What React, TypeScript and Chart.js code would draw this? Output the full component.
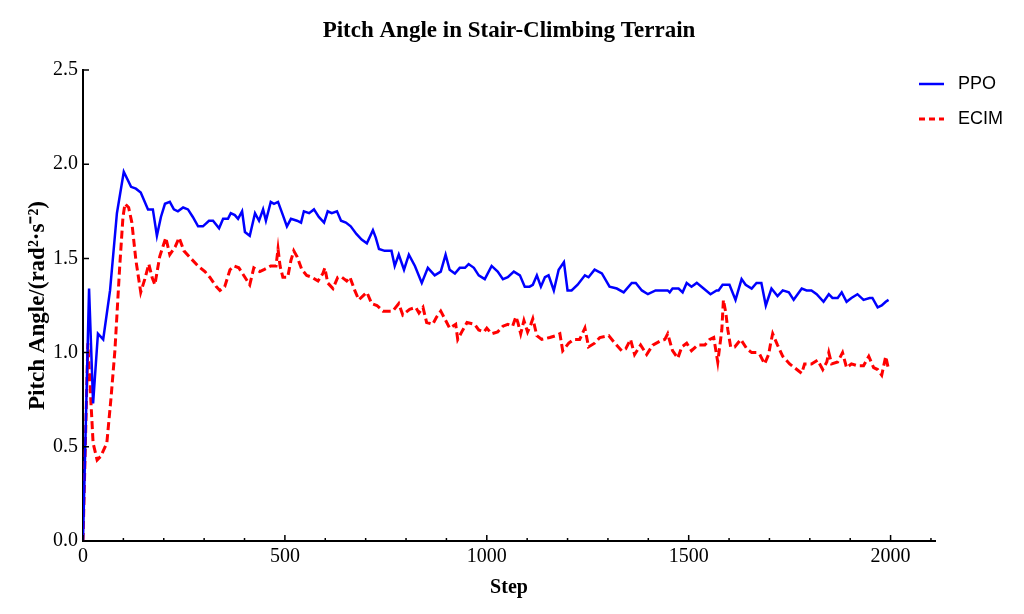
import React, { useEffect, useRef } from 'react';
import { Chart, registerables } from 'chart.js';

Chart.register(...registerables);

const titleText = 'Pitch Angle in Stair-Climbing Terrain';
const xTitle = 'Step';
const yTitle = 'Pitch Angle/(rad²·s⁻²)';
const seriesNames = ['PPO', 'ECIM'];
const xTicks = [0, 500, 1000, 1500, 2000];
const yTicks = [0.0, 0.5, 1.0, 1.5, 2.0, 2.5];

const ppoSteps = [
  0, 15, 25, 37, 50, 67, 84, 101, 119, 131, 143, 161, 173, 183, 193, 203, 215, 225, 235, 248,
  260, 272, 285, 297, 312, 322, 337, 347, 359, 366, 376, 384, 394, 401, 413, 426, 436, 446, 453, 465,
  473, 483, 495, 505, 515, 530, 540, 547, 560, 572, 584, 597, 606, 616, 629, 639, 651, 663, 677, 690,
  703, 718, 725, 733, 747, 764, 772, 782, 795, 807, 822, 839, 854, 871, 886, 898, 908, 921, 933, 946,
  955, 968, 980, 995, 1012, 1027, 1040, 1052, 1067, 1082, 1094, 1106, 1114, 1124, 1134, 1144, 1153, 1166, 1178, 1191,
  1200, 1210, 1225, 1243, 1252, 1267, 1285, 1304, 1322, 1339, 1359, 1369, 1384, 1399, 1418, 1436, 1448, 1453, 1460, 1475,
  1485, 1495, 1507, 1520, 1537, 1554, 1569, 1574, 1584, 1601, 1616, 1631, 1641, 1656, 1668, 1680, 1691, 1705, 1720, 1733,
  1748, 1760, 1780, 1792, 1804, 1817, 1834, 1847, 1856, 1869, 1879, 1891, 1903, 1918, 1933, 1948, 1955, 1968, 1978, 1988,
  1995,
];
const ppoValues = [
  0.0, 1.34, 0.73, 1.1, 1.07, 1.33, 1.74, 1.96, 1.88, 1.87, 1.85, 1.76, 1.76, 1.62, 1.72, 1.79, 1.8, 1.76, 1.75, 1.77,
  1.76, 1.72, 1.67, 1.67, 1.7, 1.7, 1.66, 1.71, 1.71, 1.74, 1.73, 1.71, 1.75, 1.64, 1.62, 1.74, 1.7, 1.76, 1.7, 1.8,
  1.79, 1.8, 1.73, 1.67, 1.71, 1.7, 1.69, 1.75, 1.74, 1.76, 1.72, 1.69, 1.75, 1.74, 1.75, 1.7, 1.69, 1.67, 1.63, 1.6,
  1.58, 1.65, 1.61, 1.55, 1.54, 1.54, 1.46, 1.52, 1.44, 1.52, 1.46, 1.37, 1.45, 1.41, 1.43, 1.52, 1.44, 1.42, 1.45, 1.45,
  1.47, 1.45, 1.41, 1.39, 1.46, 1.43, 1.39, 1.4, 1.43, 1.41, 1.35, 1.35, 1.36, 1.41, 1.35, 1.4, 1.41, 1.33, 1.44, 1.48,
  1.33, 1.33, 1.36, 1.41, 1.4, 1.44, 1.42, 1.35, 1.34, 1.32, 1.37, 1.37, 1.33, 1.31, 1.33, 1.33, 1.33, 1.32, 1.34, 1.34,
  1.32, 1.37, 1.35, 1.37, 1.34, 1.31, 1.33, 1.33, 1.36, 1.36, 1.28, 1.39, 1.36, 1.34, 1.37, 1.37, 1.25, 1.34, 1.3, 1.33,
  1.32, 1.28, 1.34, 1.33, 1.33, 1.31, 1.27, 1.31, 1.29, 1.29, 1.32, 1.27, 1.29, 1.31, 1.28, 1.29, 1.29, 1.24, 1.25, 1.27,
  1.28,
];

const ecimSteps = [
  0, 12, 25, 35, 44, 59, 69, 79, 91, 99, 104, 113, 121, 131, 143, 153, 163, 171, 178, 190,
  205, 215, 228, 238, 250, 267, 285, 302, 314, 330, 339, 351, 364, 374, 386, 401, 413, 423, 438, 448,
  465, 478, 483, 488, 495, 507, 515, 522, 530, 542, 554, 567, 582, 594, 599, 606, 619, 631, 641, 653,
  661, 673, 683, 698, 703, 715, 728, 743, 767, 782, 792, 809, 824, 832, 842, 851, 866, 876, 886, 896,
  908, 923, 928, 938, 951, 970, 980, 993, 1000, 1012, 1027, 1040, 1052, 1064, 1072, 1077, 1084, 1092, 1101, 1109,
  1114, 1124, 1136, 1156, 1171, 1181, 1188, 1203, 1215, 1230, 1243, 1252, 1267, 1280, 1302, 1317, 1334, 1344, 1356, 1366,
  1381, 1396, 1411, 1428, 1441, 1448, 1460, 1473, 1483, 1495, 1507, 1522, 1540, 1552, 1562, 1572, 1582, 1586, 1592, 1597,
  1604, 1614, 1629, 1644, 1656, 1668, 1676, 1688, 1698, 1703, 1708, 1720, 1733, 1750, 1780, 1787, 1804, 1819, 1832, 1842,
  1847, 1854, 1869, 1881, 1891, 1903, 1918, 1933, 1946, 1958, 1968, 1978, 1988, 1995,
];
const ecimValues = [
  0.0, 1.05, 0.52, 0.43, 0.45, 0.52, 0.75, 1.01, 1.46, 1.72, 1.79, 1.77, 1.69, 1.49, 1.32, 1.39, 1.47, 1.4, 1.36, 1.51,
  1.61, 1.52, 1.56, 1.61, 1.54, 1.5, 1.46, 1.43, 1.4, 1.35, 1.33, 1.35, 1.44, 1.46, 1.45, 1.4, 1.36, 1.45, 1.43, 1.44,
  1.46, 1.46, 1.55, 1.46, 1.4, 1.4, 1.49, 1.54, 1.51, 1.44, 1.41, 1.4, 1.38, 1.42, 1.45, 1.37, 1.34, 1.4, 1.4, 1.38,
  1.4, 1.33, 1.28, 1.31, 1.32, 1.26, 1.25, 1.22, 1.22, 1.26, 1.2, 1.23, 1.24, 1.21, 1.24, 1.16, 1.15, 1.19, 1.22, 1.18,
  1.13, 1.15, 1.07, 1.11, 1.16, 1.15, 1.12, 1.11, 1.13, 1.1, 1.11, 1.14, 1.15, 1.14, 1.19, 1.16, 1.1, 1.17, 1.11, 1.15,
  1.18, 1.09, 1.07, 1.08, 1.09, 1.1, 1.01, 1.05, 1.07, 1.07, 1.13, 1.03, 1.05, 1.08, 1.09, 1.05, 1.01, 1.02, 1.07, 0.99,
  1.04, 0.99, 1.04, 1.06, 1.07, 1.1, 1.01, 0.97, 1.03, 1.05, 1.01, 1.04, 1.04, 1.07, 1.08, 0.95, 1.12, 1.28, 1.21, 1.12,
  1.03, 1.03, 1.07, 1.02, 1.0, 1.0, 0.99, 0.94, 0.99, 1.05, 1.1, 1.04, 0.98, 0.94, 0.89, 0.94, 0.94, 0.96, 0.91, 0.95,
  1.0, 0.94, 0.95, 1.0, 0.92, 0.94, 0.93, 0.93, 0.98, 0.92, 0.91, 0.88, 0.98, 0.91,
];

const seriesColors = ['#0000ff', '#ff0000'];
const SERIF = '"Liberation Serif", "Times New Roman", serif';
const SANS = '"Liberation Sans", Arial, sans-serif';

const decorPlugin = {
  id: 'decor',
  afterDraw(chart: any) {
    const { ctx, chartArea, scales } = chart;
    const xs = scales.x;
    const ys = scales.y;
    ctx.save();
    // title
    ctx.fillStyle = '#000';
    ctx.font = `bold 23px ${SERIF}`;
    ctx.textAlign = 'center';
    ctx.textBaseline = 'middle';
    ctx.fillText(titleText, (chartArea.left + chartArea.right) / 2, 31);

    // inward ticks
    ctx.strokeStyle = '#000';
    ctx.lineWidth = 1.5;
    ctx.beginPath();
    for (let v = 0; v <= 2100; v += 100) {
      const px = xs.getPixelForValue(v);
      const len = v % 500 === 0 ? 6 : 3;
      ctx.moveTo(px, chartArea.bottom);
      ctx.lineTo(px, chartArea.bottom - len);
    }
    for (const v of yTicks) {
      const py = ys.getPixelForValue(v);
      ctx.moveTo(chartArea.left, py);
      ctx.lineTo(chartArea.left + 6, py);
    }
    ctx.stroke();

    // legend
    const legendY = [84, 119];
    ctx.font = `18px ${SANS}`;
    ctx.textAlign = 'left';
    ctx.textBaseline = 'middle';
    seriesNames.forEach((name, i) => {
      ctx.strokeStyle = seriesColors[i];
      ctx.lineWidth = i === 0 ? 2.5 : 3;
      ctx.setLineDash(i === 0 ? [] : [6, 4]);
      ctx.beginPath();
      ctx.moveTo(919, legendY[i]);
      ctx.lineTo(944, legendY[i]);
      ctx.stroke();
      ctx.setLineDash([]);
      ctx.fillStyle = '#000';
      ctx.fillText(name, 958, legendY[i]);
    });
    ctx.restore();
  },
};

export default function App() {
  const ref = useRef<HTMLCanvasElement>(null);
  useEffect(() => {
    if (!ref.current) return;
    const chart = new Chart(ref.current, {
      type: 'line',
      data: {
        datasets: [
          {
            label: seriesNames[0],
            data: ppoSteps.map((s, i) => ({ x: s, y: ppoValues[i] })),
            borderColor: seriesColors[0],
            borderWidth: 2.5,
            pointRadius: 0,
            tension: 0,
            fill: false,
          },
          {
            label: seriesNames[1],
            data: ecimSteps.map((s, i) => ({ x: s, y: ecimValues[i] })),
            borderColor: seriesColors[1],
            borderWidth: 3,
            borderDash: [8, 4],
            pointRadius: 0,
            tension: 0,
            fill: false,
          },
        ],
      },
      options: {
        responsive: false,
        animation: false,
        layout: { padding: { top: 70, right: 89, bottom: 0, left: 0 } },
        plugins: { legend: { display: false }, title: { display: false }, tooltip: { enabled: false } },
        scales: {
          x: {
            type: 'linear',
            min: 0,
            max: 2110,
            afterBuildTicks: (s: any) => {
              s.ticks = xTicks.map((v) => ({ value: v }));
            },
            afterFit: (s: any) => {
              s.height = 73;
            },
            grid: { display: false, drawTicks: false },
            border: { display: true, color: '#000', width: 2 },
            ticks: {
              color: '#000',
              font: { family: SERIF, size: 20 },
              padding: 4,
              maxRotation: 0,
              autoSkip: false,
              callback: (v: any) => String(v),
            },
            title: {
              display: true,
              text: xTitle,
              color: '#000',
              font: { family: SERIF, size: 20, weight: 'bold' },
              padding: { top: 0, bottom: 14 },
            },
          },
          y: {
            type: 'linear',
            min: 0,
            max: 2.5,
            afterBuildTicks: (s: any) => {
              s.ticks = yTicks.map((v) => ({ value: v }));
            },
            afterFit: (s: any) => {
              s.width = 83;
            },
            grid: { display: false, drawTicks: false },
            border: { display: true, color: '#000', width: 2 },
            ticks: {
              color: '#000',
              font: { family: SERIF, size: 20 },
              padding: 5,
              autoSkip: false,
              callback: (v: any) => Number(v).toFixed(1),
            },
            title: {
              display: true,
              text: yTitle,
              color: '#000',
              font: { family: SERIF, size: 23, weight: 'bold' },
              padding: { top: 24, bottom: 0 },
            },
          },
        },
      },
      plugins: [decorPlugin],
    });
    return () => chart.destroy();
  }, []);
  return (
    <div style={{ position: 'fixed', left: 0, top: 0, width: 1024, height: 614, background: '#fff' }}>
      <canvas ref={ref} width={1024} height={614} style={{ display: 'block' }} />
    </div>
  );
}
